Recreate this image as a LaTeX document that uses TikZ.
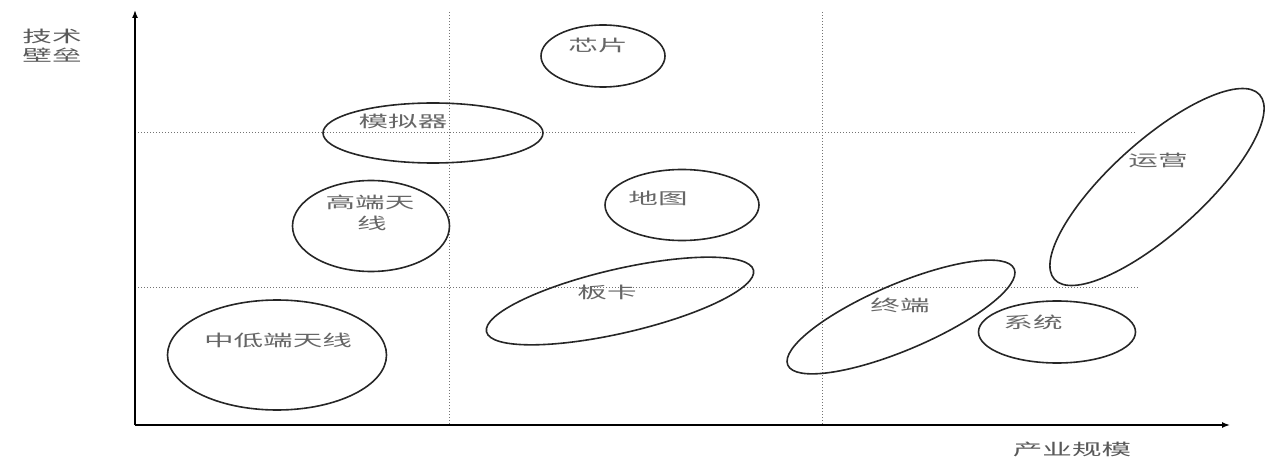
\documentclass[tikz,border=0pt]{standalone}
\usepackage{fontspec}
\setmainfont{Noto Sans CJK SC}
\usetikzlibrary{shapes.geometric,arrows.meta}
\newcommand{\widetxt}[1]{\scalebox{1.85}[1]{#1}}
\begin{document}
\begin{tikzpicture}[x=1pt,y=-1pt,
  oval/.style={draw=black!85,line width=1.6pt,ellipse,inner sep=0pt},
  lbl/.style={text=black!60,font=\fontsize{16pt}{19pt}\selectfont,inner sep=0pt,align=center},
  grid/.style={draw=black!55,dotted,line width=1pt},
  axis/.style={draw=black,line width=1.5pt,-{Latex[length=8pt,width=6pt]}}]
\useasboundingbox (0,0) rectangle (1266,457);
% axes
\coordinate (o) at (135,425);
\coordinate (ytop) at (135,10);
\coordinate (xend) at (1230,425);
% grid lines
\coordinate (v1t) at (449,12); \coordinate (v1b) at (449,425);
\coordinate (v2t) at (822,12); \coordinate (v2b) at (822,425);
\coordinate (h1l) at (135,133); \coordinate (h1r) at (1135,133);
\coordinate (h2l) at (135,287); \coordinate (h2r) at (1138,287);
\draw[grid] (v1t) -- (v1b);
\draw[grid] (v2t) -- (v2b);
\draw[grid] (h1l) -- (h1r);
\draw[grid] (h2l) -- (h2r);
\draw[axis] (o) -- (ytop);
\draw[axis] (o) -- (xend);
% axis labels
\node[lbl,text=black!65] (ylab1) at (52,36) {\widetxt{技术}};
\node[lbl,text=black!65] (ylab2) at (52,55) {\widetxt{壁垒}};
\node[lbl,text=black!65] (xlab) at (1072,449) {\widetxt{产业规模}};
% ellipses
\node[oval,minimum width=124pt,minimum height=62pt] (chip) at (603,56) {};
\node[lbl] (chipt) at (598,45) {\widetxt{芯片}};
\node[oval,minimum width=220pt,minimum height=60pt] (sim) at (433,133) {};
\node[lbl] (simt) at (403,121) {\widetxt{模拟器}};
\node[oval,minimum width=157pt,minimum height=91pt] (hant) at (371,226) {};
\node[lbl] (hantt1) at (370,202) {\widetxt{高端天}};
\node[lbl] (hantt2) at (372,223) {\widetxt{线}};
\node[oval,minimum width=154pt,minimum height=71pt] (map) at (682,205) {};
\node[lbl] (mapt) at (658,198) {\widetxt{地图}};
\node[oval,minimum width=274pt,minimum height=64pt,rotate=13] (board) at (620,301) {};
\node[lbl] (boardt) at (607,292) {\widetxt{板卡}};
\node[oval,minimum width=219pt,minimum height=110pt] (lant) at (277,355) {};
\node[lbl] (lantt) at (278,340) {\widetxt{中低端天线}};
\node[oval,minimum width=246pt,minimum height=66pt,rotate=23] (term) at (901,317) {};
\node[lbl] (termt) at (900,305) {\widetxt{终端}};
\node[oval,minimum width=157pt,minimum height=62pt] (sys) at (1057,332) {};
\node[lbl] (syst) at (1033,322) {\widetxt{系统}};
\node[oval,minimum width=276pt,minimum height=92pt,rotate=42] (op) at (1157,187) {};
\node[lbl] (opt) at (1158,160) {\widetxt{运营}};
\end{tikzpicture}
\end{document}
